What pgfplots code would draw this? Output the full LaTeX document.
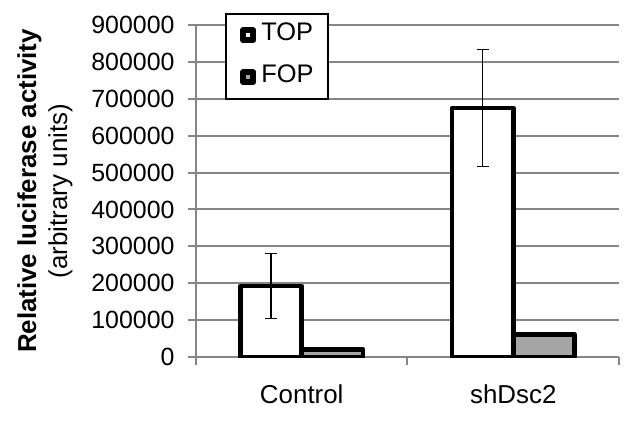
\documentclass[border=0pt]{standalone}
\usepackage{pgfplots}
\pgfplotsset{compat=1.18}
\usepackage{fontspec}
\setmainfont{Liberation Sans}
\definecolor{gridgray}{RGB}{134,134,134}
\definecolor{fopgray}{RGB}{166,166,166}
\begin{document}
\begin{tikzpicture}
\begin{axis}[
  name=ax,
  scale only axis,
  width=423bp, height=332bp,
  xmin=-0.5, xmax=1.5,
  ymin=0, ymax=900000,
  ytick={0,100000,200000,300000,400000,500000,600000,700000,800000,900000},
  scaled y ticks=false,
  /pgf/number format/fixed,
  /pgf/number format/1000 sep={},
  /pgf/number format/assume math mode=true,
  xtick={-0.5,0.5,1.5},
  x tick label as interval,
  xticklabels={Control,shDsc2},
  axis x line=bottom, axis y line=left,
  axis line style={gridgray, line width=2bp, -},
  ymajorgrids,
  grid style={gridgray, line width=2bp},
  tick align=outside,
  major tick length=8bp,
  tick style={gridgray, line width=2bp},
  yticklabel style={font=\fontsize{25}{29}\selectfont, black, xshift=-10bp},
  xticklabel style={font=\fontsize{26}{30}\selectfont, black, yshift=-16bp},
  ylabel={\textbf{Relative luciferase activity}\\(arbitrary units)},
  ylabel style={align=center, font=\fontsize{26}{31}\selectfont, at={(axis description cs:-0.357,0.5)}, anchor=center},
  ybar=0pt,
  bar width=0.29,
  legend style={at={(0.0686,1.036)}, anchor=north west, draw=black, line width=1.5bp, fill=white,
    font=\fontsize{25.5}{29}\selectfont, legend cell align=left,
    row sep=26bp, column sep=5bp, inner xsep=14.5bp, inner ysep=13.5bp,
    nodes={inner sep=0pt, text height=0.72em, text depth=0pt}},
]
\addplot[draw=black, fill=white, line width=4.5bp, line join=round,
  legend image code/.code={\draw[draw=black,fill=white,line width=6bp,line join=round] (0bp,-3.5bp) rectangle (10bp,6.5bp);},
  error bars/.cd, y dir=both, y explicit,
  error bar style={black, line width=1.5bp},
  error mark options={rotate=90, mark size=6bp, line width=1.5bp, black}]
  coordinates {(0,193000) +- (0,88000) (1,675000) +- (0,158000)};
\addlegendentry{TOP\hspace{7bp}}
\addplot[draw=black, fill=fopgray, line width=4.5bp, line join=round,
  legend image code/.code={\draw[draw=black,fill=fopgray,line width=6bp,line join=round] (0bp,-3.5bp) rectangle (10bp,6.5bp);}]
  coordinates {(0,20000) (1,61000)};
\addlegendentry{FOP}
\end{axis}
\pgfresetboundingbox
\useasboundingbox ([shift={(-196bp,-66bp)}]ax.south west) rectangle ([shift={(8bp,25bp)}]ax.north east);
\end{tikzpicture}
\end{document}
